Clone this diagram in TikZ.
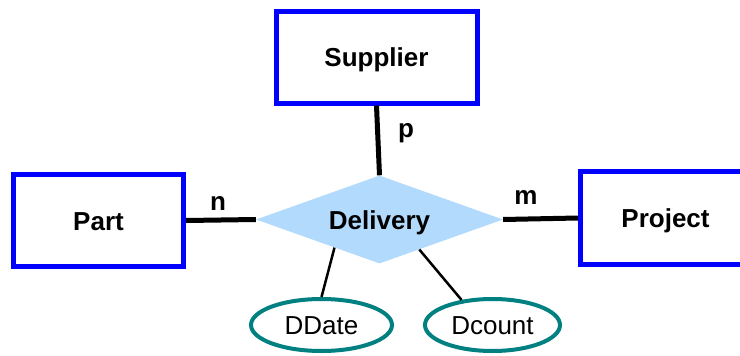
\documentclass[tikz,border=0pt]{standalone}
\usepackage{fontspec}
\setmainfont{Liberation Sans}
\usetikzlibrary{shapes.geometric}
\definecolor{entblue}{RGB}{0,0,255}
\definecolor{relfill}{RGB}{178,218,252}
\definecolor{attteal}{RGB}{0,128,128}
\tikzset{
  entity/.style={draw=entblue, line width=5pt, rectangle, minimum height=92pt,
    inner sep=0pt, font=\fontsize{26}{30}\selectfont\bfseries, text height=19pt, text depth=0pt},
  relship/.style={diamond, aspect=2.8, fill=relfill, draw=none, minimum width=247pt, minimum height=88pt,
    inner sep=0pt, font=\fontsize{26}{30}\selectfont\bfseries, text height=19pt, text depth=0pt},
  attrib/.style={ellipse, draw=attteal, line width=4pt, inner sep=0pt,
    font=\fontsize{26}{30}\selectfont, text height=19pt, text depth=-5pt},
  card/.style={anchor=base, font=\fontsize{26}{30}\selectfont\bfseries, inner sep=0pt},
  thickline/.style={line width=5pt, draw=black},
  thinline/.style={line width=2.5pt, draw=black},
}
\begin{document}
\begin{tikzpicture}[x=1pt, y=-1pt]
  \useasboundingbox (0,0) rectangle (740,356);
  \node[entity, minimum width=201pt] (sup) at (376.5,57) {Supplier};
  \node[entity, minimum width=170pt] (part) at (98.5,220.5) {Part};
  \node[entity, minimum width=170pt, minimum height=93pt] (proj) at (665.5,218) {Project};
  \node[relship] (del) at (379.5,219.5) {Delivery};
  \node[attrib, minimum width=141pt, minimum height=52pt] (dd) at (321.5,325) {DDate};
  \node[attrib, minimum width=135pt, minimum height=52pt] (dc) at (492.5,325) {Dcount};

  \draw[thickline] (part.east) -- (del.west);
  \draw[thickline] (del.east) -- (proj.west);
  \draw[thickline] (sup.south) -- (del.north);
  \draw[thinline] (del.-148) -- (dd.north);
  \draw[thinline] (del.-37) -- (dc.141);

  \node[card] (ln) at (218,210) {n};
  \node[card] (lm) at (526,204) {m};
  \node[card] (lp) at (406,137) {p};
\end{tikzpicture}
\end{document}
